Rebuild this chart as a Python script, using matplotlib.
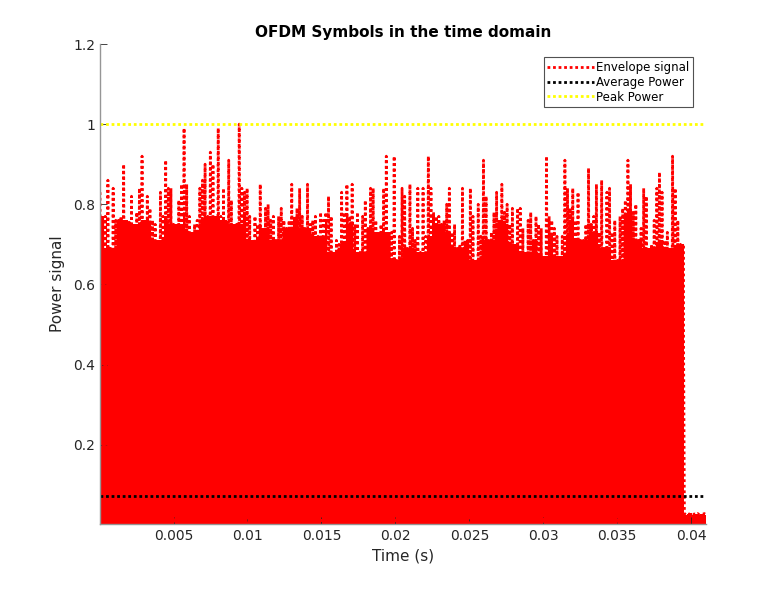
import numpy as np
import matplotlib
matplotlib.use('Agg')
import matplotlib.pyplot as plt

# Peak heights of the envelope, read left to right off the picture
peak_vals = [
    0.83, 0.77, 0.77, 0.86, 0.69, 0.84, 0.76, 0.76, 0.77, 0.90,
    0.76, 0.76, 0.82, 0.75, 0.78, 0.84, 0.92, 0.76, 0.82, 0.79,
    0.76, 0.75, 0.71, 0.83, 0.77, 0.91, 0.84, 0.84, 0.75, 0.75,
    0.81, 0.85, 0.99, 0.85, 0.77, 0.73, 0.75, 0.76, 0.84, 0.86,
    0.90, 0.77, 0.93, 0.90, 0.77, 0.99, 0.77, 0.84, 0.76, 0.91,
    0.81, 0.75, 0.75, 1.00, 0.84, 0.83, 0.84, 0.77, 0.71, 0.77,
    0.75, 0.85, 0.74, 0.79, 0.80, 0.76, 0.77, 0.71, 0.77, 0.79,
    0.76, 0.74, 0.76, 0.85, 0.77, 0.79, 0.84, 0.77, 0.74, 0.85,
    0.75, 0.76, 0.77, 0.72, 0.78, 0.76, 0.78, 0.82, 0.77, 0.68,
    0.71, 0.70, 0.83, 0.78, 0.85, 0.77, 0.85, 0.75, 0.78, 0.68,
    0.77, 0.81, 0.74, 0.84, 0.84, 0.76, 0.73,
    0.75, 0.84, 0.92, 0.73, 0.73, 0.92, 0.66, 0.72, 0.84, 0.82,
    0.69, 0.85, 0.74, 0.71, 0.84, 0.68, 0.84, 0.72, 0.92, 0.84,
    0.78, 0.77, 0.77, 0.75, 0.76, 0.80, 0.84, 0.73, 0.75, 0.69,
    0.70, 0.84, 0.71, 0.71, 0.84, 0.77, 0.66, 0.80, 0.72, 0.91,
    0.82, 0.71, 0.73, 0.78, 0.83, 0.76, 0.85, 0.78, 0.80, 0.75,
    0.79, 0.70, 0.79, 0.79, 0.74, 0.68, 0.76, 0.78,
    0.71, 0.77, 0.75, 0.74, 0.67, 0.92, 0.77, 0.76, 0.74, 0.72,
    0.67, 0.72, 0.91, 0.84, 0.79, 0.84, 0.76, 0.83, 0.71, 0.71,
    0.75, 0.89, 0.75, 0.77, 0.85, 0.73, 0.86, 0.69, 0.83, 0.84,
    0.73, 0.76, 0.66, 0.77, 0.79, 0.81, 0.91, 0.85, 0.78, 0.80,
    0.71, 0.74, 0.84, 0.82, 0.69, 0.70, 0.76, 0.84, 0.88, 0.83,
    0.71, 0.73, 0.69, 0.92, 0.84, 0.76, 0.70, 0.70,
]
floor_level = 0.004          # envelope troughs between the peaks
tail_vals = [0.028, 0.024, 0.027, 0.026, 0.029, 0.025, 0.027, 0.026,
             0.028, 0.025, 0.027, 0.026, 0.028, 0.024]
t_first, t_last_peak, t_end = 0.00003, 0.03945, 0.0410

avg_power = 0.0725
peak_power = 1.0

x_ticks = [0.005, 0.01, 0.015, 0.02, 0.025, 0.03, 0.035, 0.04]
x_ticklabels = ['0.005', '0.01', '0.015', '0.02', '0.025', '0.03', '0.035', '0.04']
y_ticks = [0.2, 0.4, 0.6, 0.8, 1.0, 1.2]
y_ticklabels = ['0.2', '0.4', '0.6', '0.8', '1', '1.2']

# sample instants of the envelope (peaks with troughs between them)
peaks = np.array(peak_vals)
n = len(peaks)
t_peaks = np.linspace(t_first, t_last_peak, n)
half = (t_peaks[1] - t_peaks[0]) / 2
t_env = np.empty(2 * n)
y_env = np.empty(2 * n)
t_env[0::2] = t_peaks
y_env[0::2] = peaks
t_env[1::2] = t_peaks + half
y_env[1::2] = floor_level
t_tail = np.linspace(t_last_peak + half, t_end, len(tail_vals))
t_env = np.concatenate([t_env[:-1], t_tail])
y_env = np.concatenate([y_env[:-1], tail_vals])

# the dense oscillation overlaps into a solid body up to the lowest nearby peak
padded = np.pad(peaks, 2, mode='edge')
body = np.min(np.stack([padded[k:k + n] for k in range(5)]), axis=0)
t_body = np.concatenate([t_peaks, t_tail])
y_body = np.concatenate([body, tail_vals])

plt.rcParams['font.family'] = ['DejaVu Sans']
fig = plt.figure(figsize=(7.79, 5.90), dpi=100)
ax = fig.add_axes([0.1284, 0.1119, 0.7779, 0.8135])

dots = (0, (1, 1))
ax.fill_between(t_body, 0, y_body, step='mid', color='#ff0000', linewidth=0)
ax.plot(t_env, y_env, color='#ff0000', linewidth=2.0, linestyle=dots,
        label='Envelope signal')
ax.plot([t_first, t_end], [avg_power, avg_power], color='black',
        linewidth=2.0, linestyle=dots, label='Average Power')
ax.plot([t_first, t_end], [peak_power, peak_power], color='#ffff00',
        linewidth=2.0, linestyle=dots, label='Peak Power')

ax.set_xlim(t_first, t_end)
ax.set_ylim(0.002, 1.2)
ax.set_xticks(x_ticks)
ax.set_xticklabels(x_ticklabels)
ax.set_yticks(y_ticks)
ax.set_yticklabels(y_ticklabels)
ax.tick_params(direction='in', length=5, colors='#262626', labelsize=10,
               width=0.6)
for side in ['top', 'right']:
    ax.spines[side].set_visible(False)
for side in ['left', 'bottom']:
    ax.spines[side].set_color('#969696')
    ax.spines[side].set_linewidth(1.0)

ax.set_title('OFDM Symbols in the time domain', fontsize=11,
             fontweight='bold', pad=5)
ax.set_xlabel('Time (s)', fontsize=11, color='#262626')
ax.set_ylabel('Power signal', fontsize=11, color='#262626', labelpad=6)

leg = ax.legend(loc='upper right', bbox_to_anchor=(0.978, 0.972),
                fontsize=8.5, frameon=True, fancybox=False, handlelength=3.9,
                handletextpad=0.2, borderpad=0.3, labelspacing=0.15,
                borderaxespad=0.0)
leg.get_frame().set_edgecolor('#262626')
leg.get_frame().set_linewidth(0.8)

fig.savefig('out.png', dpi=100)
